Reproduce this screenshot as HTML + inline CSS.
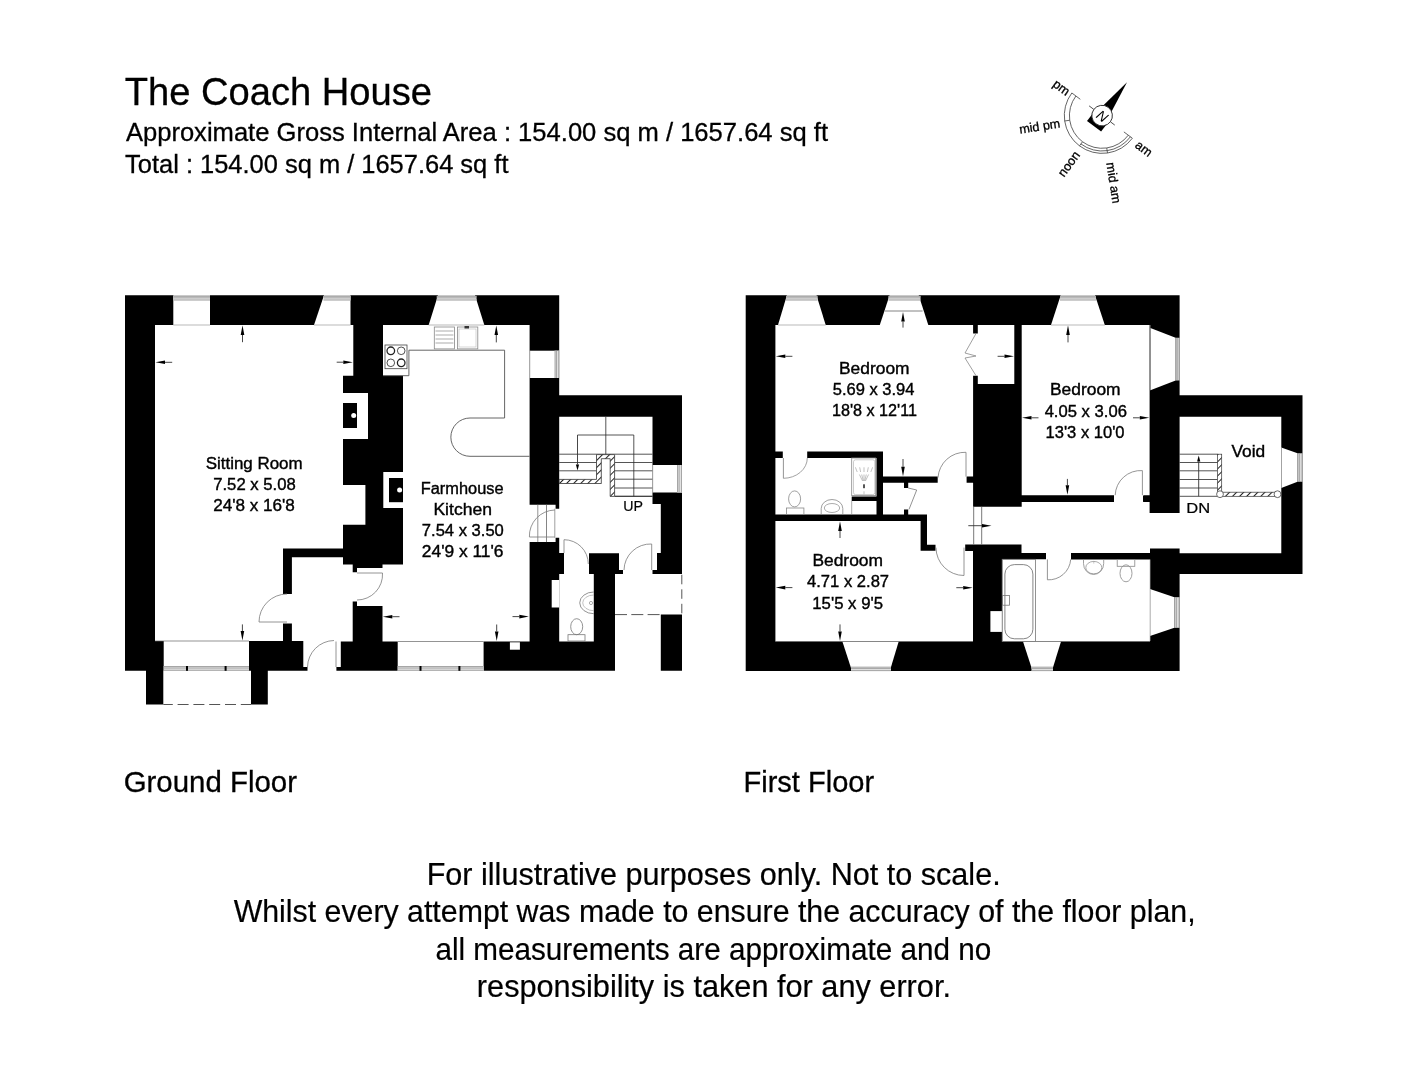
<!DOCTYPE html>
<html><head><meta charset="utf-8"><style>
html,body{margin:0;padding:0;background:#fff;}
svg{filter:grayscale(1);}
svg{display:block;}
text{font-family:"Liberation Sans",sans-serif;}
</style></head><body>
<svg width="1427" height="1080" viewBox="0 0 1427 1080">
<rect width="1427" height="1080" fill="#fff"/>
<path fill="#000" d="M125.00,295.30H155.00V670.80H125.00ZM125.00,295.30H559.20V325.00H125.00ZM529.60,325.00H559.20V504.70H529.60ZM555.60,504.00H559.20V508.70H555.60ZM529.60,542.10H559.20V641.50H529.60ZM555.60,537.80H559.20V542.20H555.60ZM559.00,553.00H564.00V574.00H559.00ZM559.00,395.30H682.00V416.80H559.00ZM652.50,395.30H682.00V504.00H652.50ZM660.80,504.00H682.00V574.00H660.80ZM657.00,553.00H660.80V574.00H657.00ZM652.50,570.00H657.00V574.00H652.50ZM660.80,614.50H682.00V670.80H660.80ZM589.00,553.30H619.00V574.00H589.00ZM619.00,570.00H623.00V574.00H619.00ZM593.80,574.00H615.00V641.50H593.80ZM483.60,641.50H615.00V670.80H483.60ZM340.80,641.50H397.70V670.80H340.80ZM352.70,605.90H382.50V641.50H352.70ZM352.70,601.50H357.00V605.90H352.70ZM125.00,641.00H163.70V670.80H125.00ZM249.00,641.00H303.30V670.80H249.00ZM303.30,667.00H307.50V670.80H303.30ZM336.40,667.00H340.80V670.80H336.40ZM146.00,670.80H163.30V704.40H146.00ZM251.00,670.80H267.80V704.40H251.00ZM283.00,548.50H291.90V593.90H283.00ZM283.00,548.50H343.00V557.20H283.00ZM283.00,623.50H291.90V641.00H283.00ZM353.30,325.00H383.00V375.70H353.30ZM343.00,375.70H403.00V485.00H343.00ZM365.40,485.00H403.00V524.80H365.40ZM343.00,524.80H403.00V564.60H343.00ZM352.70,564.40H382.50V568.00H352.70ZM352.70,568.00H357.00V572.30H352.70ZM745.70,295.30H775.40V671.10H745.70ZM745.70,295.30H1179.60V325.00H745.70ZM1149.60,325.00H1179.60V513.00H1149.60ZM1179.60,395.30H1302.50V416.80H1179.60ZM1281.30,395.30H1302.50V574.10H1281.30ZM1150.00,553.30H1302.50V574.10H1150.00ZM1150.00,548.50H1179.60V670.70H1150.00ZM745.70,641.50H1179.60V671.10H745.70ZM1014.30,325.00H1021.70V384.00H1014.30ZM973.10,384.00H1021.70V506.80H973.10ZM973.10,325.00H977.80V333.50H973.10ZM973.10,375.70H977.80V384.00H973.10ZM1021.50,495.20H1114.00V502.00H1021.50ZM1143.30,495.20H1150.70V502.00H1143.30ZM807.20,451.50H883.00V458.00H807.20ZM775.40,451.50H782.80V458.00H775.40ZM876.50,451.50H883.00V514.50H876.50ZM851.70,496.50H876.50V501.00H851.70ZM883.00,476.60H937.70V482.80H883.00ZM904.00,482.80H908.20V488.00H904.00ZM904.00,509.40H908.20V514.50H904.00ZM966.60,476.60H973.70V482.80H966.60ZM775.40,514.50H927.00V521.00H775.40ZM920.60,514.50H927.00V550.80H920.60ZM920.60,544.70H935.50V550.80H920.60ZM965.20,544.40H1021.50V551.10H965.20ZM973.00,544.40H1002.20V641.50H973.00ZM1002.20,551.00H1021.50V559.30H1002.20ZM1002.20,553.00H1046.00V559.30H1002.20ZM1071.00,553.00H1150.00V559.50H1071.00ZM1143.00,496.00H1150.00V501.80H1143.00Z"/>
<polygon points="173.30,295.30 210.00,295.30 210.00,325.00 173.30,325.00" fill="#fff" />
<rect x="173.30" y="295.90" width="36.70" height="4.60" fill="#e2e2e2" />
<line x1="173.30" y1="296.40" x2="210.00" y2="296.40" stroke="#8c8c8c" stroke-width="0.7" />
<line x1="173.30" y1="297.83" x2="210.00" y2="297.83" stroke="#8c8c8c" stroke-width="0.7" />
<line x1="173.30" y1="300.00" x2="210.00" y2="300.00" stroke="#8c8c8c" stroke-width="0.7" />
<polygon points="324.00,295.30 350.50,295.30 350.50,325.00 314.00,325.00" fill="#fff" />
<rect x="323.50" y="295.90" width="27.00" height="4.60" fill="#e2e2e2" />
<line x1="323.50" y1="296.40" x2="350.50" y2="296.40" stroke="#8c8c8c" stroke-width="0.7" />
<line x1="323.50" y1="297.83" x2="350.50" y2="297.83" stroke="#8c8c8c" stroke-width="0.7" />
<line x1="323.50" y1="300.00" x2="350.50" y2="300.00" stroke="#8c8c8c" stroke-width="0.7" />
<polygon points="438.00,295.30 475.00,295.30 484.30,325.00 428.70,325.00" fill="#fff" />
<rect x="436.80" y="295.90" width="39.70" height="4.60" fill="#e2e2e2" />
<line x1="436.80" y1="296.40" x2="476.50" y2="296.40" stroke="#8c8c8c" stroke-width="0.7" />
<line x1="436.80" y1="297.83" x2="476.50" y2="297.83" stroke="#8c8c8c" stroke-width="0.7" />
<line x1="436.80" y1="300.00" x2="476.50" y2="300.00" stroke="#8c8c8c" stroke-width="0.7" />
<polygon points="529.60,350.70 559.20,350.70 559.20,378.00 529.60,378.00" fill="#fff" />
<rect x="554.60" y="350.70" width="4.60" height="27.30" fill="#e2e2e2" />
<line x1="555.10" y1="350.70" x2="555.10" y2="378.00" stroke="#8c8c8c" stroke-width="0.7" />
<line x1="556.53" y1="350.70" x2="556.53" y2="378.00" stroke="#8c8c8c" stroke-width="0.7" />
<line x1="558.70" y1="350.70" x2="558.70" y2="378.00" stroke="#8c8c8c" stroke-width="0.7" />
<polygon points="551.70,580.00 559.20,580.00 559.20,607.50 551.70,607.50" fill="#fff" />
<polygon points="652.50,465.00 682.00,465.00 682.00,492.50 652.50,492.50" fill="#fff" />
<rect x="677.00" y="465.00" width="5.00" height="27.50" fill="#e2e2e2" />
<line x1="677.50" y1="465.00" x2="677.50" y2="492.50" stroke="#8c8c8c" stroke-width="0.7" />
<line x1="679.10" y1="465.00" x2="679.10" y2="492.50" stroke="#8c8c8c" stroke-width="0.7" />
<line x1="681.50" y1="465.00" x2="681.50" y2="492.50" stroke="#8c8c8c" stroke-width="0.7" />
<rect x="509.90" y="642.30" width="10.00" height="7.40" fill="#fff" />
<line x1="681.80" y1="574.50" x2="681.80" y2="614.50" stroke="#555" stroke-width="1.0" stroke-dasharray="9.5,5" stroke-dashoffset="-0.3"/>
<line x1="615.00" y1="614.60" x2="660.80" y2="614.60" stroke="#555" stroke-width="1.0" stroke-dasharray="12,4.3"/>
<rect x="397.70" y="666.00" width="85.90" height="4.80" fill="#e2e2e2" />
<line x1="397.70" y1="666.50" x2="483.60" y2="666.50" stroke="#8c8c8c" stroke-width="0.7" />
<line x1="397.70" y1="668.02" x2="483.60" y2="668.02" stroke="#8c8c8c" stroke-width="0.7" />
<line x1="397.70" y1="670.30" x2="483.60" y2="670.30" stroke="#8c8c8c" stroke-width="0.7" />
<rect x="419.50" y="666.00" width="2.00" height="4.80" fill="#000" />
<rect x="458.40" y="666.00" width="2.00" height="4.80" fill="#000" />
<line x1="397.70" y1="641.50" x2="483.60" y2="641.50" stroke="#666" stroke-width="0.7" />
<rect x="163.70" y="666.00" width="85.30" height="4.80" fill="#e2e2e2" />
<line x1="163.70" y1="666.50" x2="249.00" y2="666.50" stroke="#8c8c8c" stroke-width="0.7" />
<line x1="163.70" y1="668.02" x2="249.00" y2="668.02" stroke="#8c8c8c" stroke-width="0.7" />
<line x1="163.70" y1="670.30" x2="249.00" y2="670.30" stroke="#8c8c8c" stroke-width="0.7" />
<rect x="186.00" y="666.00" width="2.00" height="4.80" fill="#000" />
<rect x="224.60" y="666.00" width="2.00" height="4.80" fill="#000" />
<line x1="155.00" y1="641.00" x2="249.00" y2="641.00" stroke="#666" stroke-width="0.7" />
<line x1="163.30" y1="704.50" x2="251.00" y2="704.50" stroke="#555" stroke-width="1.0" stroke-dasharray="11,4.8" stroke-dashoffset="1.5"/>
<rect x="343.00" y="393.00" width="25.00" height="46.00" fill="#fff" />
<rect x="343.00" y="403.00" width="14.00" height="25.00" fill="#000" />
<circle cx="353.7" cy="415.5" r="2.5" fill="#fff"/>
<rect x="383.30" y="472.00" width="19.70" height="36.00" fill="#fff" />
<rect x="389.00" y="478.00" width="14.00" height="24.20" fill="#000" />
<circle cx="399.6" cy="490" r="2.5" fill="#fff"/>
<polyline points="383.00,375.70 408.90,375.70 408.90,350.20 504.60,350.20 504.60,418.00 470.00,418.00" fill="none" stroke="#555" stroke-width="0.9" />
<path d="M470,418 A19.15,19.15 0 0 0 470,456.3 L529.6,456.3" fill="none" stroke="#555" stroke-width="0.9"/>
<rect x="385.00" y="345.00" width="22.00" height="23.70" fill="none" stroke="#444" stroke-width="0.8"/>
<circle cx="390.8" cy="350.8" r="3.8" fill="none" stroke="#222" stroke-width="1.3"/>
<circle cx="401.2" cy="350.8" r="3.8" fill="none" stroke="#222" stroke-width="0.8"/>
<circle cx="390.8" cy="362.8" r="3.8" fill="none" stroke="#222" stroke-width="0.8"/>
<circle cx="401.2" cy="362.8" r="3.8" fill="none" stroke="#222" stroke-width="1.3"/>
<rect x="434.30" y="327.00" width="20.30" height="21.90" fill="none" stroke="#888" stroke-width="0.8"/>
<line x1="435.50" y1="331.00" x2="453.40" y2="331.00" stroke="#888" stroke-width="0.7" />
<line x1="435.50" y1="335.00" x2="453.40" y2="335.00" stroke="#888" stroke-width="0.7" />
<line x1="435.50" y1="339.00" x2="453.40" y2="339.00" stroke="#888" stroke-width="0.7" />
<line x1="435.50" y1="343.00" x2="453.40" y2="343.00" stroke="#888" stroke-width="0.7" />
<rect x="457.40" y="327.00" width="20.40" height="21.90" fill="none" stroke="#888" stroke-width="0.8"/>
<rect x="459.00" y="329.00" width="17.00" height="18.00" fill="none" stroke="#bbb" stroke-width="0.6"/>
<rect x="464.50" y="326.00" width="4.50" height="2.50" fill="#333" />
<line x1="559.20" y1="454.20" x2="652.50" y2="454.20" stroke="#2a2a2a" stroke-width="0.8" />
<line x1="559.20" y1="462.50" x2="596.50" y2="462.50" stroke="#2a2a2a" stroke-width="0.8" />
<line x1="559.20" y1="470.80" x2="596.50" y2="470.80" stroke="#2a2a2a" stroke-width="0.8" />
<line x1="614.70" y1="462.50" x2="652.50" y2="462.50" stroke="#2a2a2a" stroke-width="0.8" />
<line x1="614.70" y1="470.80" x2="652.50" y2="470.80" stroke="#2a2a2a" stroke-width="0.8" />
<line x1="614.70" y1="479.20" x2="652.50" y2="479.20" stroke="#2a2a2a" stroke-width="0.8" />
<line x1="614.70" y1="488.00" x2="652.50" y2="488.00" stroke="#2a2a2a" stroke-width="0.8" />
<line x1="614.70" y1="496.30" x2="652.50" y2="496.30" stroke="#2a2a2a" stroke-width="0.8" />
<defs><pattern id="hat" width="5" height="5" patternUnits="userSpaceOnUse" patternTransform="rotate(45)"><rect width="5" height="5" fill="#fff"/><line x1="2.5" y1="0" x2="2.5" y2="5" stroke="#222" stroke-width="1"/></pattern></defs>
<path d="M559.2,479.4 L596.5,479.4 L596.5,454.6 L614.6,454.6 L614.6,496.4 L610.2,496.4 L610.2,458.7 L601.3,458.7 L601.3,483.5 L559.2,483.5 Z" fill="url(#hat)" stroke="#333" stroke-width="0.8"/>
<line x1="633.80" y1="435.00" x2="633.80" y2="496.30" stroke="#2a2a2a" stroke-width="0.8" />
<line x1="577.50" y1="435.00" x2="633.80" y2="435.00" stroke="#2a2a2a" stroke-width="0.8" />
<line x1="605.80" y1="416.80" x2="605.80" y2="454.20" stroke="#2a2a2a" stroke-width="0.8" />
<line x1="577.50" y1="435.00" x2="577.50" y2="464.50" stroke="#333" stroke-width="0.9" />
<polygon points="577.50,470.50 575.90,464.50 579.10,464.50" fill="#000" />
<line x1="614.70" y1="496.30" x2="652.50" y2="496.30" stroke="#2a2a2a" stroke-width="0.8" />
<line x1="259.00" y1="622.00" x2="287.00" y2="622.00" stroke="#7a7a7a" stroke-width="0.8" />
<path d="M287.00,594.00 A28.00,28.00 0 0 0 259.00,622.00" fill="none" stroke="#7a7a7a" stroke-width="0.8"/>
<line x1="357.00" y1="573.00" x2="382.50" y2="573.00" stroke="#7a7a7a" stroke-width="0.8" />
<path d="M382.50,573.00 A25.50,25.50 0 0 1 357.00,600.00" fill="none" stroke="#7a7a7a" stroke-width="0.8"/>
<line x1="336.00" y1="641.50" x2="336.00" y2="667.00" stroke="#7a7a7a" stroke-width="0.8" />
<path d="M334.00,640.50 A27.00,27.00 0 0 0 307.50,667.00" fill="none" stroke="#7a7a7a" stroke-width="0.8"/>
<line x1="537.80" y1="504.70" x2="537.80" y2="542.10" stroke="#777" stroke-width="0.8" />
<line x1="546.50" y1="504.70" x2="546.50" y2="542.10" stroke="#666" stroke-width="0.8" />
<line x1="554.80" y1="508.70" x2="554.80" y2="537.80" stroke="#888" stroke-width="0.8" />
<line x1="529.40" y1="537.00" x2="554.80" y2="537.00" stroke="#7a7a7a" stroke-width="0.8" />
<path d="M554.80,510.00 A26.00,26.00 0 0 0 529.40,537.00" fill="none" stroke="#7a7a7a" stroke-width="0.8"/>
<line x1="564.00" y1="539.70" x2="564.00" y2="553.00" stroke="#7a7a7a" stroke-width="0.8" />
<path d="M564.00,539.70 A24.30,24.30 0 0 1 588.30,564.00" fill="none" stroke="#7a7a7a" stroke-width="0.8"/>
<line x1="651.70" y1="544.00" x2="651.70" y2="570.00" stroke="#7a7a7a" stroke-width="0.8" />
<path d="M651.70,544.00 A26.50,26.50 0 0 0 624.00,570.00" fill="none" stroke="#7a7a7a" stroke-width="0.8"/>
<ellipse cx="576.7" cy="626.7" rx="6" ry="8" fill="none" stroke="#777" stroke-width="0.8"/>
<rect x="568.00" y="634.70" width="17.00" height="6.30" fill="none" stroke="#777" stroke-width="0.8"/>
<path d="M593.8,592 A14,10.8 0 0 0 593.8,613.7" fill="none" stroke="#777" stroke-width="0.8"/>
<path d="M593.8,595 A11,7.8 0 0 0 593.8,610.7" fill="none" stroke="#999" stroke-width="0.6"/>
<circle cx="591" cy="603" r="1.6" fill="none" stroke="#777" stroke-width="0.6"/>
<line x1="242.50" y1="342.20" x2="242.50" y2="335.00" stroke="#333" stroke-width="0.9" />
<polygon points="242.50,325.50 244.30,335.00 240.70,335.00" fill="#000" />
<line x1="172.20" y1="362.30" x2="165.00" y2="362.30" stroke="#333" stroke-width="0.9" />
<polygon points="155.50,362.30 165.00,360.50 165.00,364.10" fill="#000" />
<line x1="336.70" y1="362.20" x2="343.30" y2="362.20" stroke="#333" stroke-width="0.9" />
<polygon points="352.80,362.20 343.30,364.00 343.30,360.40" fill="#000" />
<line x1="242.40" y1="624.40" x2="242.40" y2="631.00" stroke="#333" stroke-width="0.9" />
<polygon points="242.40,640.50 240.60,631.00 244.20,631.00" fill="#000" />
<line x1="496.30" y1="342.40" x2="496.30" y2="335.00" stroke="#333" stroke-width="0.9" />
<polygon points="496.30,325.50 498.10,335.00 494.50,335.00" fill="#000" />
<line x1="399.50" y1="616.70" x2="392.30" y2="616.70" stroke="#333" stroke-width="0.9" />
<polygon points="382.80,616.70 392.30,614.90 392.30,618.50" fill="#000" />
<line x1="512.50" y1="616.60" x2="519.30" y2="616.60" stroke="#333" stroke-width="0.9" />
<polygon points="528.80,616.60 519.30,618.40 519.30,614.80" fill="#000" />
<line x1="496.70" y1="624.50" x2="496.70" y2="631.50" stroke="#333" stroke-width="0.9" />
<polygon points="496.70,641.00 494.90,631.50 498.50,631.50" fill="#000" />
<polygon points="786.90,295.30 816.50,295.30 825.70,325.00 778.00,325.00" fill="#fff" />
<rect x="786.00" y="295.90" width="31.50" height="4.60" fill="#e2e2e2" />
<line x1="786.00" y1="296.40" x2="817.50" y2="296.40" stroke="#8c8c8c" stroke-width="0.7" />
<line x1="786.00" y1="297.83" x2="817.50" y2="297.83" stroke="#8c8c8c" stroke-width="0.7" />
<line x1="786.00" y1="300.00" x2="817.50" y2="300.00" stroke="#8c8c8c" stroke-width="0.7" />
<polygon points="889.60,295.30 918.70,295.30 928.30,325.00 879.80,325.00" fill="#fff" />
<rect x="888.50" y="295.90" width="32.00" height="4.60" fill="#e2e2e2" />
<line x1="888.50" y1="296.40" x2="920.50" y2="296.40" stroke="#8c8c8c" stroke-width="0.7" />
<line x1="888.50" y1="297.83" x2="920.50" y2="297.83" stroke="#8c8c8c" stroke-width="0.7" />
<line x1="888.50" y1="300.00" x2="920.50" y2="300.00" stroke="#8c8c8c" stroke-width="0.7" />
<line x1="884.60" y1="311.00" x2="922.60" y2="311.00" stroke="#777" stroke-width="0.9" />
<polygon points="1060.70,295.30 1095.00,295.30 1104.80,325.00 1051.00,325.00" fill="#fff" />
<rect x="1060.00" y="295.90" width="36.00" height="4.60" fill="#e2e2e2" />
<line x1="1060.00" y1="296.40" x2="1096.00" y2="296.40" stroke="#8c8c8c" stroke-width="0.7" />
<line x1="1060.00" y1="297.83" x2="1096.00" y2="297.83" stroke="#8c8c8c" stroke-width="0.7" />
<line x1="1060.00" y1="300.00" x2="1096.00" y2="300.00" stroke="#8c8c8c" stroke-width="0.7" />
<polygon points="1150.40,328.00 1175.60,337.80 1175.60,380.40 1150.40,390.20" fill="#fff" />
<rect x="1175.60" y="337.80" width="4.00" height="42.60" fill="#e2e2e2" />
<line x1="1176.10" y1="337.80" x2="1176.10" y2="380.40" stroke="#8c8c8c" stroke-width="0.7" />
<line x1="1177.28" y1="337.80" x2="1177.28" y2="380.40" stroke="#8c8c8c" stroke-width="0.7" />
<line x1="1179.10" y1="337.80" x2="1179.10" y2="380.40" stroke="#8c8c8c" stroke-width="0.7" />
<line x1="1150.20" y1="325.00" x2="1150.20" y2="390.20" stroke="#888" stroke-width="0.7" />
<polygon points="1281.30,447.50 1297.50,453.30 1297.50,481.70 1281.30,488.00" fill="#fff" />
<rect x="1297.50" y="453.30" width="5.00" height="28.40" fill="#e2e2e2" />
<line x1="1298.00" y1="453.30" x2="1298.00" y2="481.70" stroke="#8c8c8c" stroke-width="0.7" />
<line x1="1299.60" y1="453.30" x2="1299.60" y2="481.70" stroke="#8c8c8c" stroke-width="0.7" />
<line x1="1302.00" y1="453.30" x2="1302.00" y2="481.70" stroke="#8c8c8c" stroke-width="0.7" />
<polygon points="1150.00,588.90 1174.40,597.20 1174.40,627.80 1150.00,636.10" fill="#fff" />
<rect x="1174.40" y="597.20" width="5.20" height="30.60" fill="#e2e2e2" />
<line x1="1174.90" y1="597.20" x2="1174.90" y2="627.80" stroke="#8c8c8c" stroke-width="0.7" />
<line x1="1176.58" y1="597.20" x2="1176.58" y2="627.80" stroke="#8c8c8c" stroke-width="0.7" />
<line x1="1179.10" y1="597.20" x2="1179.10" y2="627.80" stroke="#8c8c8c" stroke-width="0.7" />
<line x1="1150.20" y1="559.50" x2="1150.20" y2="641.00" stroke="#888" stroke-width="0.7" />
<polygon points="842.40,641.50 898.70,641.50 889.80,671.10 852.00,671.10" fill="#fff" />
<rect x="851.00" y="666.70" width="40.00" height="4.40" fill="#e2e2e2" />
<line x1="851.00" y1="667.20" x2="891.00" y2="667.20" stroke="#8c8c8c" stroke-width="0.7" />
<line x1="851.00" y1="668.55" x2="891.00" y2="668.55" stroke="#8c8c8c" stroke-width="0.7" />
<line x1="851.00" y1="670.60" x2="891.00" y2="670.60" stroke="#8c8c8c" stroke-width="0.7" />
<polygon points="1023.00,641.50 1061.00,641.50 1051.90,671.10 1032.60,671.10" fill="#fff" />
<rect x="1031.50" y="666.70" width="21.50" height="4.40" fill="#e2e2e2" />
<line x1="1031.50" y1="667.20" x2="1053.00" y2="667.20" stroke="#8c8c8c" stroke-width="0.7" />
<line x1="1031.50" y1="668.55" x2="1053.00" y2="668.55" stroke="#8c8c8c" stroke-width="0.7" />
<line x1="1031.50" y1="670.60" x2="1053.00" y2="670.60" stroke="#8c8c8c" stroke-width="0.7" />
<line x1="775.40" y1="641.50" x2="973.00" y2="641.50" stroke="#666" stroke-width="0.7" />
<line x1="1002.00" y1="641.50" x2="1150.00" y2="641.50" stroke="#666" stroke-width="0.7" />
<line x1="851.70" y1="501.00" x2="851.70" y2="514.50" stroke="#888" stroke-width="0.7" />
<polyline points="908.20,488.00 916.70,490.00 909.00,509.40" fill="none" stroke="#777" stroke-width="0.8" />
<rect x="990.40" y="611.10" width="11.80" height="20.80" fill="#fff" />
<line x1="973.70" y1="506.80" x2="973.70" y2="544.40" stroke="#555" stroke-width="0.8" />
<line x1="981.70" y1="506.80" x2="981.70" y2="544.40" stroke="#555" stroke-width="0.8" />
<polyline points="976.00,333.50 965.00,353.00 976.00,356.00" fill="none" stroke="#888" stroke-width="0.8" />
<polyline points="976.00,356.00 965.00,358.00 976.00,375.70" fill="none" stroke="#888" stroke-width="0.8" />
<ellipse cx="794.6" cy="498.9" rx="6" ry="8" fill="none" stroke="#888" stroke-width="0.8"/>
<rect x="786.50" y="508.00" width="17.40" height="6.50" fill="none" stroke="#888" stroke-width="0.8"/>
<path d="M821.2,514.5 L821.2,508.5 A10.8,9 0 0 1 842.8,508.5 L842.8,514.5" fill="none" stroke="#888" stroke-width="0.8"/>
<ellipse cx="832" cy="508" rx="7.7" ry="4.5" fill="none" stroke="#888" stroke-width="0.7"/>
<rect x="851.70" y="458.00" width="24.00" height="37.60" fill="none" stroke="#888" stroke-width="0.8"/>
<rect x="853.50" y="459.80" width="21.30" height="34.80" fill="none" stroke="#aaa" stroke-width="0.6" rx="2"/>
<line x1="855.40" y1="467.30" x2="857.20" y2="472.00" stroke="#999" stroke-width="0.6" />
<line x1="859.40" y1="474.50" x2="862.60" y2="481.00" stroke="#999" stroke-width="0.6" />
<line x1="859.70" y1="467.30" x2="860.60" y2="472.00" stroke="#999" stroke-width="0.6" />
<line x1="861.70" y1="474.50" x2="863.30" y2="481.00" stroke="#999" stroke-width="0.6" />
<line x1="864.00" y1="467.30" x2="864.00" y2="472.00" stroke="#999" stroke-width="0.6" />
<line x1="864.00" y1="474.50" x2="864.00" y2="481.00" stroke="#999" stroke-width="0.6" />
<line x1="868.30" y1="467.30" x2="867.40" y2="472.00" stroke="#999" stroke-width="0.6" />
<line x1="866.30" y1="474.50" x2="864.70" y2="481.00" stroke="#999" stroke-width="0.6" />
<line x1="872.60" y1="467.30" x2="870.80" y2="472.00" stroke="#999" stroke-width="0.6" />
<line x1="868.60" y1="474.50" x2="865.40" y2="481.00" stroke="#999" stroke-width="0.6" />
<rect x="863.10" y="484.30" width="1.80" height="3.90" fill="#444" />
<line x1="864.00" y1="491.30" x2="864.00" y2="494.30" stroke="#aaa" stroke-width="0.7" />
<rect x="1002.20" y="559.30" width="33.40" height="82.20" fill="none" stroke="#777" stroke-width="0.8"/>
<rect x="1004.90" y="564.60" width="28.00" height="74.20" fill="none" stroke="#666" stroke-width="0.8" rx="9.5" ry="9.5"/>
<rect x="1002.50" y="595.60" width="7.10" height="9.60" fill="none" stroke="#777" stroke-width="0.8"/>
<path d="M1083.5,559.5 L1083.5,563.5 A10.1,11 0 0 0 1103.7,563.5 L1103.7,559.5" fill="none" stroke="#888" stroke-width="0.8"/>
<ellipse cx="1093.8" cy="567.6" rx="8" ry="6.2" fill="none" stroke="#888" stroke-width="0.7"/>
<line x1="1093.80" y1="561.00" x2="1093.80" y2="563.50" stroke="#999" stroke-width="0.6" />
<rect x="1117.20" y="559.50" width="17.60" height="6.80" fill="none" stroke="#888" stroke-width="0.8"/>
<ellipse cx="1126" cy="573.3" rx="6" ry="8.5" fill="none" stroke="#888" stroke-width="0.8"/>
<path d="M807.3,458 A24,20.3 0 0 1 783.4,478.3" fill="none" stroke="#8a8a8a" stroke-width="0.8"/>
<line x1="783.40" y1="458.00" x2="783.40" y2="478.30" stroke="#7a7a7a" stroke-width="0.8" />
<line x1="966.00" y1="452.30" x2="966.00" y2="476.60" stroke="#7a7a7a" stroke-width="0.8" />
<path d="M966.00,452.30 A27.00,27.00 0 0 0 938.00,477.60" fill="none" stroke="#7a7a7a" stroke-width="0.8"/>
<line x1="964.00" y1="547.60" x2="964.00" y2="575.50" stroke="#7a7a7a" stroke-width="0.8" />
<path d="M964.00,575.50 A28.00,28.00 0 0 1 936.00,547.60" fill="none" stroke="#7a7a7a" stroke-width="0.8"/>
<line x1="1142.40" y1="470.60" x2="1142.40" y2="495.20" stroke="#7a7a7a" stroke-width="0.8" />
<path d="M1142.40,470.60 A25.50,25.50 0 0 0 1115.20,495.20" fill="none" stroke="#7a7a7a" stroke-width="0.8"/>
<line x1="1047.40" y1="559.40" x2="1047.40" y2="579.80" stroke="#7a7a7a" stroke-width="0.8" />
<path d="M1047.40,579.80 A22.00,22.00 0 0 0 1070.70,559.40" fill="none" stroke="#7a7a7a" stroke-width="0.8"/>
<line x1="1179.60" y1="454.20" x2="1217.50" y2="454.20" stroke="#2a2a2a" stroke-width="0.8" />
<line x1="1179.60" y1="462.50" x2="1217.50" y2="462.50" stroke="#2a2a2a" stroke-width="0.8" />
<line x1="1179.60" y1="470.80" x2="1217.50" y2="470.80" stroke="#2a2a2a" stroke-width="0.8" />
<line x1="1179.60" y1="479.50" x2="1217.50" y2="479.50" stroke="#2a2a2a" stroke-width="0.8" />
<line x1="1179.60" y1="488.00" x2="1217.50" y2="488.00" stroke="#2a2a2a" stroke-width="0.8" />
<line x1="1179.60" y1="496.30" x2="1217.50" y2="496.30" stroke="#2a2a2a" stroke-width="0.8" />
<line x1="1198.70" y1="496.30" x2="1198.70" y2="461.50" stroke="#333" stroke-width="0.9" />
<polygon points="1198.70,455.50 1200.30,461.50 1197.10,461.50" fill="#000" />
<rect x="1217.50" y="454.20" width="4.20" height="40.50" fill="url(#hat)" stroke="#333" stroke-width="0.7"/>
<rect x="1221.70" y="492.20" width="55.80" height="4.10" fill="url(#hat)" stroke="#333" stroke-width="0.7"/>
<circle cx="1220" cy="494.2" r="3.4" fill="#fff" stroke="#444" stroke-width="0.8"/>
<circle cx="1277.5" cy="494.2" r="3.4" fill="#fff" stroke="#444" stroke-width="0.8"/>
<line x1="903.00" y1="327.60" x2="903.00" y2="321.50" stroke="#333" stroke-width="0.9" />
<polygon points="903.00,312.00 904.80,321.50 901.20,321.50" fill="#000" />
<line x1="792.40" y1="356.30" x2="785.30" y2="356.30" stroke="#333" stroke-width="0.9" />
<polygon points="775.80,356.30 785.30,354.50 785.30,358.10" fill="#000" />
<line x1="997.60" y1="356.30" x2="1004.50" y2="356.30" stroke="#333" stroke-width="0.9" />
<polygon points="1014.00,356.30 1004.50,358.10 1004.50,354.50" fill="#000" />
<line x1="903.00" y1="459.00" x2="903.00" y2="466.80" stroke="#333" stroke-width="0.9" />
<polygon points="903.00,476.30 901.20,466.80 904.80,466.80" fill="#000" />
<line x1="1068.00" y1="342.40" x2="1068.00" y2="335.00" stroke="#333" stroke-width="0.9" />
<polygon points="1068.00,325.50 1069.80,335.00 1066.20,335.00" fill="#000" />
<line x1="1038.50" y1="417.80" x2="1031.50" y2="417.80" stroke="#333" stroke-width="0.9" />
<polygon points="1022.00,417.80 1031.50,416.00 1031.50,419.60" fill="#000" />
<line x1="1133.00" y1="417.80" x2="1139.80" y2="417.80" stroke="#333" stroke-width="0.9" />
<polygon points="1149.30,417.80 1139.80,419.60 1139.80,416.00" fill="#000" />
<line x1="1067.40" y1="478.90" x2="1067.40" y2="485.30" stroke="#333" stroke-width="0.9" />
<polygon points="1067.40,494.80 1065.60,485.30 1069.20,485.30" fill="#000" />
<line x1="840.00" y1="538.00" x2="840.00" y2="530.90" stroke="#333" stroke-width="0.9" />
<polygon points="840.00,521.40 841.80,530.90 838.20,530.90" fill="#000" />
<line x1="792.40" y1="587.60" x2="785.30" y2="587.60" stroke="#333" stroke-width="0.9" />
<polygon points="775.80,587.60 785.30,585.80 785.30,589.40" fill="#000" />
<line x1="956.30" y1="587.70" x2="963.20" y2="587.70" stroke="#333" stroke-width="0.9" />
<polygon points="972.70,587.70 963.20,589.50 963.20,585.90" fill="#000" />
<line x1="840.00" y1="624.40" x2="840.00" y2="631.50" stroke="#333" stroke-width="0.9" />
<polygon points="840.00,641.00 838.20,631.50 841.80,631.50" fill="#000" />
<line x1="968.30" y1="525.70" x2="982.00" y2="525.70" stroke="#333" stroke-width="0.9" />
<polygon points="991.50,525.70 982.00,527.50 982.00,523.90" fill="#000" />
<line x1="173.30" y1="325.00" x2="210.00" y2="325.00" stroke="#8a8a8a" stroke-width="0.6" />
<line x1="314.00" y1="325.00" x2="350.50" y2="325.00" stroke="#8a8a8a" stroke-width="0.6" />
<line x1="428.70" y1="325.00" x2="484.30" y2="325.00" stroke="#8a8a8a" stroke-width="0.6" />
<line x1="529.80" y1="350.70" x2="529.80" y2="378.00" stroke="#8a8a8a" stroke-width="0.6" />
<line x1="652.70" y1="465.00" x2="652.70" y2="492.50" stroke="#8a8a8a" stroke-width="0.6" />
<line x1="778.00" y1="325.00" x2="825.70" y2="325.00" stroke="#8a8a8a" stroke-width="0.6" />
<line x1="1051.00" y1="325.00" x2="1104.80" y2="325.00" stroke="#8a8a8a" stroke-width="0.6" />
<line x1="1281.50" y1="447.50" x2="1281.50" y2="488.00" stroke="#8a8a8a" stroke-width="0.6" />
<line x1="842.40" y1="641.50" x2="898.70" y2="641.50" stroke="#8a8a8a" stroke-width="0.6" />
<line x1="1023.00" y1="641.50" x2="1061.00" y2="641.50" stroke="#8a8a8a" stroke-width="0.6" />
<text x="124.74" y="104.60" font-size="38" textLength="307.22" lengthAdjust="spacingAndGlyphs" font-family="Liberation Sans, sans-serif" fill="#000" stroke="#000" stroke-width="0.3">The Coach House</text>
<text x="125.90" y="140.60" font-size="25.5" textLength="702.10" lengthAdjust="spacingAndGlyphs" font-family="Liberation Sans, sans-serif" fill="#000" stroke="#000" stroke-width="0.3">Approximate Gross Internal Area : 154.00 sq m / 1657.64 sq ft</text>
<text x="125.10" y="173.00" font-size="25.5" textLength="383.36" lengthAdjust="spacingAndGlyphs" font-family="Liberation Sans, sans-serif" fill="#000" stroke="#000" stroke-width="0.3">Total : 154.00 sq m / 1657.64 sq ft</text>
<text x="123.66" y="792.00" font-size="29.5" textLength="173.34" lengthAdjust="spacingAndGlyphs" font-family="Liberation Sans, sans-serif" fill="#000" stroke="#000" stroke-width="0.3">Ground Floor</text>
<text x="743.50" y="791.70" font-size="29.5" textLength="130.58" lengthAdjust="spacingAndGlyphs" font-family="Liberation Sans, sans-serif" fill="#000" stroke="#000" stroke-width="0.3">First Floor</text>
<text x="426.65" y="885.00" font-size="30.5" textLength="574.01" lengthAdjust="spacingAndGlyphs" font-family="Liberation Sans, sans-serif" fill="#000" stroke="#000" stroke-width="0.2">For illustrative purposes only. Not to scale.</text>
<text x="233.64" y="922.30" font-size="30.5" textLength="961.94" lengthAdjust="spacingAndGlyphs" font-family="Liberation Sans, sans-serif" fill="#000" stroke="#000" stroke-width="0.2">Whilst every attempt was made to ensure the accuracy of the floor plan,</text>
<text x="435.40" y="959.60" font-size="30.5" textLength="555.76" lengthAdjust="spacingAndGlyphs" font-family="Liberation Sans, sans-serif" fill="#000" stroke="#000" stroke-width="0.2">all measurements are approximate and no</text>
<text x="476.86" y="996.60" font-size="30.5" textLength="474.08" lengthAdjust="spacingAndGlyphs" font-family="Liberation Sans, sans-serif" fill="#000" stroke="#000" stroke-width="0.2">responsibility is taken for any error.</text>
<text x="205.66" y="468.90" font-size="17.3" textLength="96.96" lengthAdjust="spacingAndGlyphs" font-family="Liberation Sans, sans-serif" fill="#000" stroke="#000" stroke-width="0.4">Sitting Room</text>
<text x="213.20" y="489.60" font-size="17.3" textLength="82.60" lengthAdjust="spacingAndGlyphs" font-family="Liberation Sans, sans-serif" fill="#000" stroke="#000" stroke-width="0.4">7.52 x 5.08</text>
<text x="213.20" y="510.70" font-size="17.3" textLength="81.70" lengthAdjust="spacingAndGlyphs" font-family="Liberation Sans, sans-serif" fill="#000" stroke="#000" stroke-width="0.4">24'8 x 16'8</text>
<text x="420.76" y="493.90" font-size="17.3" textLength="82.78" lengthAdjust="spacingAndGlyphs" font-family="Liberation Sans, sans-serif" fill="#000" stroke="#000" stroke-width="0.4">Farmhouse</text>
<text x="433.40" y="515.00" font-size="17.3" textLength="58.58" lengthAdjust="spacingAndGlyphs" font-family="Liberation Sans, sans-serif" fill="#000" stroke="#000" stroke-width="0.4">Kitchen</text>
<text x="421.84" y="536.10" font-size="17.3" textLength="81.98" lengthAdjust="spacingAndGlyphs" font-family="Liberation Sans, sans-serif" fill="#000" stroke="#000" stroke-width="0.4">7.54 x 3.50</text>
<text x="421.84" y="556.70" font-size="17.3" textLength="81.70" lengthAdjust="spacingAndGlyphs" font-family="Liberation Sans, sans-serif" fill="#000" stroke="#000" stroke-width="0.4">24'9 x 11'6</text>
<text x="839.02" y="373.60" font-size="17.3" textLength="70.50" lengthAdjust="spacingAndGlyphs" font-family="Liberation Sans, sans-serif" fill="#000" stroke="#000" stroke-width="0.4">Bedroom</text>
<text x="832.74" y="394.60" font-size="17.3" textLength="81.72" lengthAdjust="spacingAndGlyphs" font-family="Liberation Sans, sans-serif" fill="#000" stroke="#000" stroke-width="0.4">5.69 x 3.94</text>
<text x="831.92" y="415.60" font-size="17.3" textLength="85.06" lengthAdjust="spacingAndGlyphs" font-family="Liberation Sans, sans-serif" fill="#000" stroke="#000" stroke-width="0.4">18'8 x 12'11</text>
<text x="1049.94" y="395.20" font-size="17.3" textLength="70.68" lengthAdjust="spacingAndGlyphs" font-family="Liberation Sans, sans-serif" fill="#000" stroke="#000" stroke-width="0.4">Bedroom</text>
<text x="1044.64" y="416.50" font-size="17.3" textLength="82.26" lengthAdjust="spacingAndGlyphs" font-family="Liberation Sans, sans-serif" fill="#000" stroke="#000" stroke-width="0.4">4.05 x 3.06</text>
<text x="1045.56" y="437.90" font-size="17.3" textLength="78.98" lengthAdjust="spacingAndGlyphs" font-family="Liberation Sans, sans-serif" fill="#000" stroke="#000" stroke-width="0.4">13'3 x 10'0</text>
<text x="812.40" y="566.30" font-size="17.3" textLength="70.58" lengthAdjust="spacingAndGlyphs" font-family="Liberation Sans, sans-serif" fill="#000" stroke="#000" stroke-width="0.4">Bedroom</text>
<text x="807.00" y="587.30" font-size="17.3" textLength="82.08" lengthAdjust="spacingAndGlyphs" font-family="Liberation Sans, sans-serif" fill="#000" stroke="#000" stroke-width="0.4">4.71 x 2.87</text>
<text x="812.30" y="608.50" font-size="17.3" textLength="70.68" lengthAdjust="spacingAndGlyphs" font-family="Liberation Sans, sans-serif" fill="#000" stroke="#000" stroke-width="0.4">15'5 x 9'5</text>
<text x="1231.46" y="456.70" font-size="17.3" textLength="33.70" lengthAdjust="spacingAndGlyphs" font-family="Liberation Sans, sans-serif" fill="#000" stroke="#000" stroke-width="0.4">Void</text>
<text x="623.20" y="510.80" font-size="14.6" textLength="19.70" lengthAdjust="spacingAndGlyphs" font-family="Liberation Sans, sans-serif" fill="#000" stroke="#000" stroke-width="0.2">UP</text>
<text x="1186.30" y="512.60" font-size="14.6" textLength="23.86" lengthAdjust="spacingAndGlyphs" font-family="Liberation Sans, sans-serif" fill="#000" stroke="#000" stroke-width="0.2">DN</text>
<g transform="translate(1102.1,115.6) rotate(36.8)">
<polygon points="0,-41.6 -6.6,0 6.6,0" fill="#000"/>
<rect x="-8.8" y="2" width="17.6" height="11.4" fill="#000"/>
<circle cx="0" cy="0" r="10.3" fill="#fff" stroke="#333" stroke-width="0.9"/>
<line x1="-10.3" y1="0" x2="-16.2" y2="0" stroke="#333" stroke-width="0.8"/>
<line x1="10.3" y1="0" x2="15.8" y2="0" stroke="#333" stroke-width="0.8"/>
<text x="0.3" y="5.2" font-size="14" text-anchor="middle" font-style="italic" font-family="Liberation Sans, sans-serif" fill="#000">N</text>
<path d="M37.80,0.00 A37.8,37.8 0 0 1 -37.80,0.00" fill="none" stroke="#444" stroke-width="0.75"/>
<path d="M32.70,0.00 A32.7,32.7 0 0 1 -32.70,0.00" fill="none" stroke="#444" stroke-width="0.75"/>
<path d="M35.40,0.00 A35.4,35.4 0 0 1 0.00,35.40" fill="none" stroke="#444" stroke-width="0.75"/>
<line x1="23.12" y1="23.12" x2="26.73" y2="26.73" stroke="#444" stroke-width="0.75"/>
<line x1="0.00" y1="32.70" x2="0.00" y2="37.80" stroke="#444" stroke-width="0.75"/>
<line x1="-23.12" y1="23.12" x2="-26.73" y2="26.73" stroke="#444" stroke-width="0.75"/>
<line x1="27.20" y1="0.00" x2="37.80" y2="0.00" stroke="#444" stroke-width="0.75"/>
<line x1="-27.20" y1="0.00" x2="-37.80" y2="0.00" stroke="#444" stroke-width="0.75"/>
</g>
<text x="0" y="0" text-anchor="middle" transform="translate(1059,91) rotate(36)" font-family="Liberation Sans, sans-serif" fill="#000" font-size="12.6" stroke="#000" stroke-width="0.3">pm</text>
<text x="0" y="0" text-anchor="middle" transform="translate(1040.3,130.5) rotate(-9)" font-family="Liberation Sans, sans-serif" fill="#000" font-size="12.6" stroke="#000" stroke-width="0.3">mid pm</text>
<text x="0" y="0" text-anchor="middle" transform="translate(1072.3,166.4) rotate(-54)" font-family="Liberation Sans, sans-serif" fill="#000" font-size="12.6" stroke="#000" stroke-width="0.3">noon</text>
<text x="0" y="0" text-anchor="middle" transform="translate(1109.5,183.4) rotate(81)" font-family="Liberation Sans, sans-serif" fill="#000" font-size="12.6" stroke="#000" stroke-width="0.3">mid am</text>
<text x="0" y="0" text-anchor="middle" transform="translate(1141.3,152) rotate(37)" font-family="Liberation Sans, sans-serif" fill="#000" font-size="12.6" stroke="#000" stroke-width="0.3">am</text>
</svg></body></html>
